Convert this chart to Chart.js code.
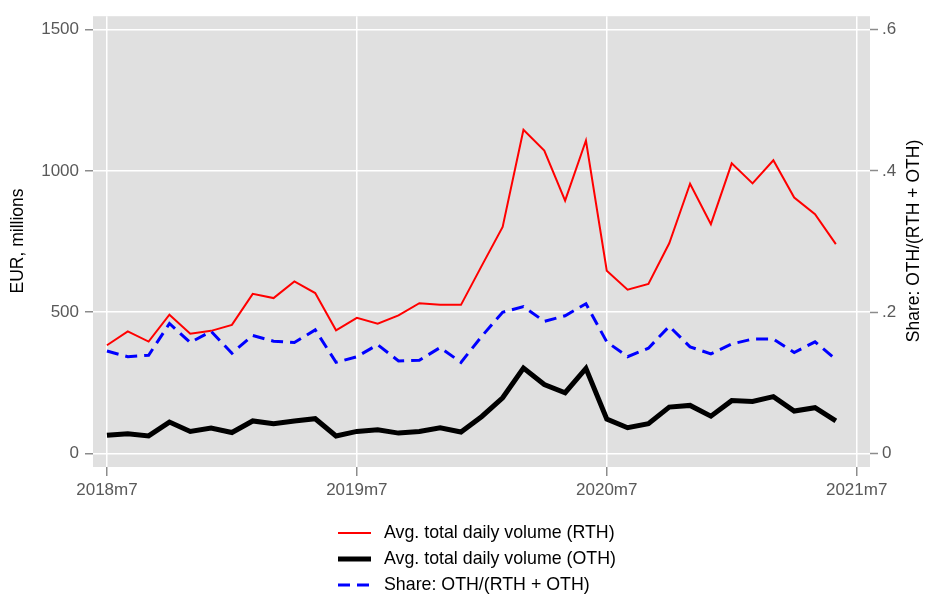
<!DOCTYPE html>
<html>
<head>
<meta charset="utf-8">
<script src="https://cdn.jsdelivr.net/npm/chart.js@4"></script>
<style>
    html, body { margin: 0; padding: 0; background: #fff; }
</style>
</head>
<body>
<canvas id="volumeChart" width="925" height="597"></canvas>
<script>
// --- Data (monthly, 2018m7 .. 2021m6) ---
const rthVolume = [383, 432, 396, 491, 424, 434, 455, 565, 550, 609, 568, 436,
                   480, 459, 489, 532, 526, 526, 665, 802, 1146, 1072, 895, 1108,
                   647, 580, 600, 744, 955, 812, 1027, 956, 1038, 906, 847, 741];
const othVolume = [64, 70, 62, 111, 78, 90, 74, 115, 105, 115, 123, 62,
                   78, 84, 72, 78, 91, 76, 131, 197, 302, 244, 215, 301,
                   122, 91, 105, 164, 170, 132, 187, 184, 201, 150, 162, 115];
const othShare = [0.145, 0.137, 0.139, 0.184, 0.157, 0.173, 0.142, 0.167, 0.159, 0.157, 0.175, 0.129,
                  0.137, 0.154, 0.131, 0.132, 0.150, 0.129, 0.166, 0.200, 0.208, 0.187, 0.195, 0.212,
                  0.158, 0.137, 0.149, 0.180, 0.151, 0.141, 0.155, 0.162, 0.162, 0.143, 0.158, 0.133];

const xTickPos = [0, 12, 24, 36];
const xTickLabels = ['2018m7', '2019m7', '2020m7', '2021m7'];
const yTicks = [0, 500, 1000, 1500];
const shareTicks = [0, 0.2, 0.4, 0.6];
const shareTickLabels = ['0', '.2', '.4', '.6'];

const FONT = '"Liberation Sans", Arial, sans-serif';
const TICK_COLOR = '#595959';

const toPoints = arr => arr.map((v, i) => ({ x: i, y: v }));

// --- Plot region background ---
const plotBg = {
    id: 'plotBg',
    beforeDraw(chart) {
        const { ctx, chartArea: a } = chart;
        ctx.save();
        ctx.fillStyle = '#e0e0e0';
        ctx.fillRect(a.left, a.top, a.right - a.left, a.bottom - a.top);
        ctx.restore();
    }
};

// --- Axis titles (both read bottom to top) ---
const axisTitles = {
    id: 'axisTitles',
    afterDraw(chart) {
        const { ctx } = chart;
        const drawTitle = (text, x, y) => {
            ctx.save();
            ctx.translate(x, y);
            ctx.rotate(-Math.PI / 2);
            ctx.font = '17.5px ' + FONT;
            ctx.fillStyle = '#000';
            ctx.textAlign = 'center';
            ctx.textBaseline = 'middle';
            ctx.fillText(text, 0, 0);
            ctx.restore();
        };
        drawTitle('EUR, millions', 18, 241);
        drawTitle('Share: OTH/(RTH + OTH)', 914, 241);
    }
};

// --- Legend below the plot, one entry per row ---
const stackedLegend = {
    id: 'stackedLegend',
    afterDraw(chart) {
        const { ctx } = chart;
        chart.data.datasets.forEach((ds, i) => {
            const y = 533 + i * 26;
            ctx.save();
            ctx.strokeStyle = ds.borderColor;
            ctx.lineWidth = ds.borderWidth;
            ctx.setLineDash(ds.borderDash || []);
            ctx.beginPath();
            ctx.moveTo(338, y);
            ctx.lineTo(371, y);
            ctx.stroke();
            ctx.setLineDash([]);
            ctx.font = '17.8px ' + FONT;
            ctx.fillStyle = '#000';
            ctx.textAlign = 'left';
            ctx.textBaseline = 'middle';
            ctx.fillText(ds.label, 384, y);
            ctx.restore();
        });
    }
};

const tickFont = { family: FONT, size: 17 };

new Chart(document.getElementById('volumeChart').getContext('2d'), {
    type: 'line',
    data: {
        datasets: [
            { label: 'Avg. total daily volume (RTH)', data: toPoints(rthVolume), borderColor: '#ff0000', borderWidth: 2, yAxisID: 'y', order: 3 },
            { label: 'Avg. total daily volume (OTH)', data: toPoints(othVolume), borderColor: '#000000', borderWidth: 5, yAxisID: 'y', order: 2 },
            { label: 'Share: OTH/(RTH + OTH)', data: toPoints(othShare), borderColor: '#0000ff', borderWidth: 3, borderDash: [12, 7], yAxisID: 'y2', order: 1 }
        ]
    },
    options: {
        responsive: false,
        animation: false,
        layout: { padding: { top: 13, left: 0, right: 0, bottom: 0 } },
        elements: { point: { radius: 0 }, line: { tension: 0, fill: false } },
        plugins: { legend: { display: false }, tooltip: { enabled: false } },
        scales: {
            x: {
                type: 'linear',
                min: -0.67,
                max: 36.64,
                afterFit: s => { s.height = 130; },
                afterBuildTicks: s => { s.ticks = xTickPos.map(v => ({ value: v })); },
                grid: { color: '#ffffff', lineWidth: 1.5, tickColor: '#8c8c8c', tickLength: 9, tickWidth: 1.5 },
                border: { display: false },
                ticks: { autoSkip: false, maxRotation: 0, padding: 4, color: TICK_COLOR, font: tickFont,
                         callback: v => xTickLabels[xTickPos.indexOf(v)] }
            },
            y: {
                position: 'left',
                min: -48,
                max: 1548,
                afterFit: s => { s.width = 93; },
                afterBuildTicks: s => { s.ticks = yTicks.map(v => ({ value: v })); },
                grid: { color: '#ffffff', lineWidth: 1.5, tickColor: '#8c8c8c', tickLength: 8, tickWidth: 1.5 },
                border: { display: false },
                ticks: { padding: 6, color: TICK_COLOR, font: tickFont, callback: v => String(v) }
            },
            y2: {
                position: 'right',
                min: -48 / 2500,
                max: 1548 / 2500,
                afterFit: s => { s.width = 55; },
                afterBuildTicks: s => { s.ticks = shareTicks.map(v => ({ value: v })); },
                grid: { drawOnChartArea: false, tickColor: '#8c8c8c', tickLength: 8, tickWidth: 1.5 },
                border: { display: false },
                ticks: { padding: 4, color: TICK_COLOR, font: tickFont,
                         callback: v => shareTickLabels[shareTicks.indexOf(v)] }
            }
        }
    },
    plugins: [plotBg, axisTitles, stackedLegend]
});
</script>
</body>
</html>
